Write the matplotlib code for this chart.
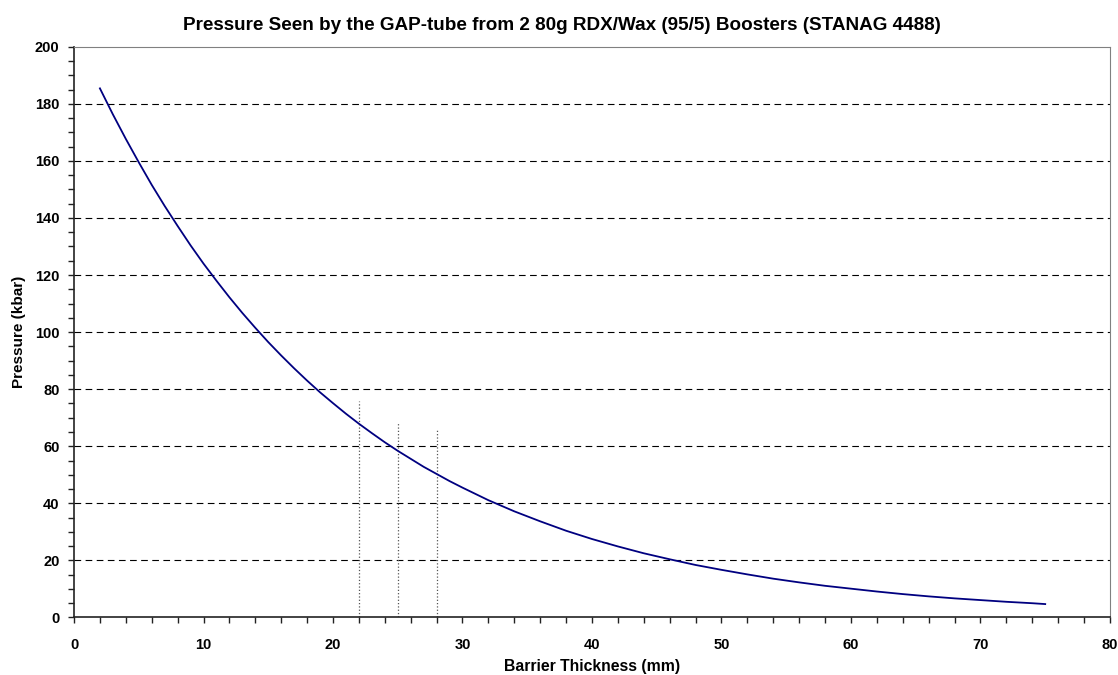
import matplotlib.pyplot as plt
from matplotlib.ticker import MultipleLocator

plt.rcParams['font.family'] = ['Liberation Sans', 'DejaVu Sans']

# pressure curve
thickness = [2, 3, 4, 5, 6, 7, 8, 9, 10, 11, 12, 13, 14, 15, 16, 17, 18, 19, 20,
             21, 22, 23, 24, 25, 26, 27, 28, 29, 30, 32, 34, 36, 38, 40, 42, 44,
             46, 48, 50, 52, 54, 56, 58, 60, 62, 64, 66, 68, 70, 72, 74, 75]
pressure = [185.4, 176.3, 167.7, 159.5, 151.6, 144.2, 137.2, 130.4, 124.0, 118.0,
            112.2, 106.7, 101.5, 96.5, 91.8, 87.3, 83.0, 78.9, 75.1, 71.4, 67.9,
            64.6, 61.4, 58.4, 55.6, 52.8, 50.3, 47.8, 45.5, 41.1, 37.2, 33.7, 30.4,
            27.5, 24.9, 22.5, 20.4, 18.4, 16.7, 15.1, 13.6, 12.3, 11.1, 10.1, 9.1,
            8.2, 7.4, 6.7, 6.1, 5.5, 5.0, 4.7]

# vertical marker lines
marker_x = [22, 25, 28]
marker_top = [76, 68, 66]

fig = plt.figure(figsize=(11.18, 6.75), dpi=100)
ax = fig.add_axes([0.0662, 0.0852, 0.9266, 0.8456])

for y in range(20, 200, 20):
    ax.axhline(y, color='black', linestyle=(0, (6, 4)), linewidth=0.8, zorder=1)

for mx, mt in zip(marker_x, marker_top):
    ax.plot([mx, mx], [0, mt], color='#555555', linestyle=':', linewidth=0.9, zorder=2)

ax.plot(thickness, pressure, color='#000080', linewidth=1.3, zorder=3)

ax.set_xlim(0, 80)
ax.set_ylim(0, 200)
ax.xaxis.set_major_locator(MultipleLocator(10))
ax.xaxis.set_minor_locator(MultipleLocator(2))
ax.yaxis.set_major_locator(MultipleLocator(20))
ax.yaxis.set_minor_locator(MultipleLocator(5))
ax.tick_params(which='both', direction='out', length=4.5, width=1, color='#222222')
ax.tick_params(which='major', labelsize=10.5)
ax.tick_params(axis='x', which='major', pad=10)
ax.tick_params(axis='y', which='major', pad=6)
for lbl in ax.get_xticklabels() + ax.get_yticklabels():
    lbl.set_fontweight('bold')

ax.spines['left'].set_color('#222222')
ax.spines['bottom'].set_color('#222222')
ax.spines['left'].set_linewidth(1.2)
ax.spines['bottom'].set_linewidth(1.2)
ax.spines['top'].set_color('#808080')
ax.spines['right'].set_color('#808080')

fig.text(0.5025, 0.956, 'Pressure Seen by the GAP-tube from 2 80g RDX/Wax (95/5) Boosters (STANAG 4488)',
         fontsize=13.6, fontweight='bold', ha='center', va='baseline')
ax.set_xlabel('Barrier Thickness (mm)', fontsize=11.3, fontweight='bold')
ax.xaxis.set_label_coords(0.5, -0.072)
ax.set_ylabel('Pressure (kbar)', fontsize=11, fontweight='bold', labelpad=6)

fig.savefig('out.png', dpi=100)
